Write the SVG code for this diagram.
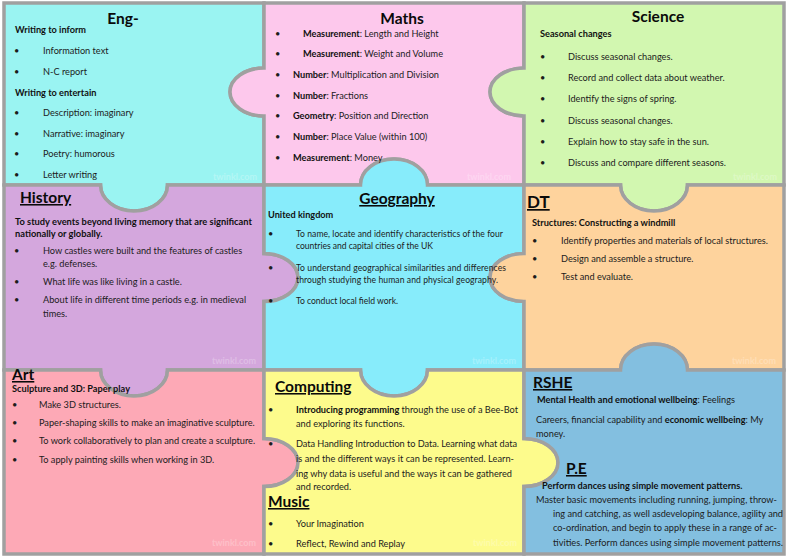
<svg xmlns="http://www.w3.org/2000/svg" width="787" height="558" viewBox="0 0 787 558">
<style>
.piece{stroke:#a0a0a0;stroke-width:3.5;stroke-linejoin:miter}
text{font-family:Lato,"Liberation Sans",sans-serif;fill:#1c1c1c}
.t{font-size:15.5px;font-weight:700;fill:#0a0a0a}
.u{text-decoration:underline}
.b{font-size:9.2px}
.h{font-weight:700;fill:#111}
.g{font-size:8.6px}
.wm{font-size:9px;font-weight:700;fill:#fff;opacity:.25}
</style>
<rect width="787" height="558" fill="#fff"/>

<g id="pieces">
<path id="eng-piece" class="piece" fill="#9af4f2" d="M4,3 H264 V68 A34 24 0 0 0 264,116 V185 H167.5 A33.5 26 0 0 1 100.5,185 H4 Z"/>
<path id="maths-piece" class="piece" fill="#fdc8ec" d="M264,3 H524 V68 A34 24 0 0 0 524,116 V185 H427.5 A33.5 26 0 0 0 360.5,185 H264 V116 A34 24 0 0 1 264,68 Z"/>
<path id="science-piece" class="piece" fill="#d2f7b0" d="M524,3 H784 V185 H687.5 A33.5 26 0 0 1 620.5,185 H524 V116 A34 24 0 0 1 524,68 Z"/>
<path id="history-piece" class="piece" fill="#d4a7dd" d="M4,185 H100.5 A33.5 26 0 0 0 167.5,185 H264 V253.5 A34 24 0 0 1 264,301.5 V370 H167.5 A33.5 26 0 0 1 100.5,370 H4 Z"/>
<path id="geography-piece" class="piece" fill="#87ecfb" d="M264,185 H360.5 A33.5 26 0 0 1 427.5,185 H524 V253.5 A34 24 0 0 0 524,301.5 V370 H427.5 A33.5 26 0 0 1 360.5,370 H264 V301.5 A34 24 0 0 0 264,253.5 Z"/>
<path id="dt-piece" class="piece" fill="#fed39d" d="M524,185 H620.5 A33.5 26 0 0 0 687.5,185 H784 V370 H687.5 A33.5 26 0 0 0 620.5,370 H524 V301.5 A34 24 0 0 1 524,253.5 Z"/>
<path id="art-piece" class="piece" fill="#fda9b6" d="M4,370 H100.5 A33.5 26 0 0 0 167.5,370 H264 V438.5 A34 24 0 0 1 264,486.5 V554 H4 Z"/>
<path id="computing-piece" class="piece" fill="#fdfb8c" d="M264,370 H360.5 A33.5 26 0 0 0 427.5,370 H524 V438.5 A34 24 0 0 1 524,486.5 V554 H264 V486.5 A34 24 0 0 0 264,438.5 Z"/>
<path id="rshe-piece" class="piece" fill="#83bfe0" d="M524,370 H620.5 A33.5 26 0 0 1 687.5,370 H784 V554 H524 V486.5 A34 24 0 0 0 524,438.5 Z"/>
</g>

<g id="eng">
<text class="t" x="123" y="24" text-anchor="middle">Eng-</text>
<text class="b h" x="15" y="33">Writing to inform</text>
<text class="b" x="14" y="54">•</text><text class="b" x="43" y="54">Information text</text>
<text class="b" x="14" y="75">•</text><text class="b" x="43" y="75">N-C report</text>
<text class="b h" x="15" y="96">Writing to entertain</text>
<text class="b" x="14" y="116">•</text><text class="b" x="43" y="116">Description: imaginary</text>
<text class="b" x="14" y="137">•</text><text class="b" x="43" y="137">Narrative: imaginary</text>
<text class="b" x="14" y="157">•</text><text class="b" x="43" y="157">Poetry: humorous</text>
<text class="b" x="14" y="178">•</text><text class="b" x="43" y="178">Letter writing</text>
<text class="wm" x="213" y="180">twinkl.com</text>
</g>

<g id="maths">
<text class="t" x="402" y="24" text-anchor="middle">Maths</text>
<text class="b" x="275" y="37">•</text><text class="b" x="303" y="37"><tspan class="h">Measurement</tspan>: Length and Height</text>
<text class="b" x="275" y="57">•</text><text class="b" x="303" y="57"><tspan class="h">Measurement</tspan>: Weight and Volume</text>
<text class="b" x="275" y="78">•</text><text class="b" x="293" y="78"><tspan class="h">Number</tspan>: Multiplication and Division</text>
<text class="b" x="275" y="99">•</text><text class="b" x="293" y="99"><tspan class="h">Number</tspan>: Fractions</text>
<text class="b" x="275" y="119">•</text><text class="b" x="293" y="119"><tspan class="h">Geometry</tspan>: Position and Direction</text>
<text class="b" x="275" y="140">•</text><text class="b" x="293" y="140"><tspan class="h">Number</tspan>: Place Value (within 100)</text>
<text class="b" x="275" y="161">•</text><text class="b" x="293" y="161"><tspan class="h">Measurement</tspan>: Money</text>
<text class="wm" x="467" y="180">twinkl.com</text>
</g>

<g id="science">
<text class="t" x="658" y="22" text-anchor="middle">Science</text>
<text class="b h" x="540" y="37">Seasonal changes</text>
<text class="b" x="540" y="60">•</text><text class="b" x="568" y="60">Discuss seasonal changes.</text>
<text class="b" x="540" y="81">•</text><text class="b" x="568" y="81">Record and collect data about weather.</text>
<text class="b" x="540" y="102">•</text><text class="b" x="568" y="102">Identify the signs of spring.</text>
<text class="b" x="540" y="124">•</text><text class="b" x="568" y="124">Discuss seasonal changes.</text>
<text class="b" x="540" y="145">•</text><text class="b" x="568" y="145">Explain how to stay safe in the sun.</text>
<text class="b" x="540" y="166">•</text><text class="b" x="568" y="166">Discuss and compare different seasons.</text>
<text class="wm" x="733" y="180">twinkl.com</text>
</g>

<g id="history">
<text class="t u" x="20" y="203">History</text>
<text class="b h" x="15" y="225" style="font-size:9.3px">To study events beyond living memory that are significant</text>
<text class="b h" x="15" y="237" style="font-size:9.3px">nationally or globally.</text>
<text class="b" x="14" y="254">•</text><text class="b" x="43" y="254">How castles were built and the features of castles</text>
<text class="b" x="43" y="267">e.g. defenses.</text>
<text class="b" x="14" y="285">•</text><text class="b" x="43" y="285">What life was like living in a castle.</text>
<text class="b" x="14" y="303">•</text><text class="b" x="43" y="303">About life in different time periods e.g. in medieval</text>
<text class="b" x="43" y="317">times.</text>
<text class="wm" x="212" y="364">twinkl.com</text>
</g>

<g id="geography">
<text class="t u" x="397" y="204" text-anchor="middle">Geography</text>
<text class="b h" x="268" y="218">United kingdom</text>
<text class="b" x="268" y="237">•</text><text class="g" x="296" y="237" textLength="207" lengthAdjust="spacing">To name, locate and identify characteristics of the four</text>
<text class="g" x="296" y="249" textLength="137" lengthAdjust="spacing">countries and capital cities of the UK</text>
<text class="b" x="268" y="271">•</text><text class="g" x="296" y="271" textLength="210" lengthAdjust="spacing">To understand geographical similarities and differences</text>
<text class="g" x="296" y="283" textLength="202" lengthAdjust="spacing">through studying the human and physical geography.</text>
<text class="b" x="268" y="304">•</text><text class="g" x="296" y="304" textLength="102" lengthAdjust="spacing">To conduct local field work.</text>
<text class="wm" x="472" y="364">twinkl.com</text>
</g>

<g id="dt">
<text class="t u" x="527" y="208" style="font-size:17px">DT</text>
<text class="b h" x="532" y="226">Structures: Constructing a windmill</text>
<text class="b" x="532" y="244">•</text><text class="b" x="561" y="244">Identify properties and materials of local structures.</text>
<text class="b" x="532" y="262">•</text><text class="b" x="561" y="262">Design and assemble a structure.</text>
<text class="b" x="532" y="280">•</text><text class="b" x="561" y="280">Test and evaluate.</text>
<text class="wm" x="732" y="364">twinkl.com</text>
</g>

<g id="art">
<text class="t u" x="12" y="380">Art</text>
<text class="b h" x="12" y="391.5">Sculpture and 3D: Paper play</text>
<text class="b" x="12" y="408">•</text><text class="b" x="39" y="408">Make 3D structures.</text>
<text class="b" x="12" y="426">•</text><text class="b" x="39" y="426">Paper-shaping skills to make an imaginative sculpture.</text>
<text class="b" x="12" y="444">•</text><text class="b" x="39" y="444">To work collaboratively to plan and create a sculpture.</text>
<text class="b" x="12" y="463">•</text><text class="b" x="39" y="463">To apply painting skills when working in 3D.</text>
<text class="wm" x="212" y="546">twinkl.com</text>
</g>

<g id="computing">
<text class="t u" x="275" y="392">Computing</text>
<text class="b" x="268" y="413">•</text><text class="b" x="296" y="413" textLength="222" lengthAdjust="spacing"><tspan class="h">Introducing programming</tspan> through the use of a Bee-Bot</text>
<text class="b" x="296" y="427">and exploring its functions.</text>
<text class="b" x="268" y="447">•</text><text class="b" x="296" y="447" textLength="221" lengthAdjust="spacing">Data Handling Introduction to Data. Learning what data</text>
<text class="b" x="296" y="462" textLength="218" lengthAdjust="spacing">is and the different ways it can be represented. Learn-</text>
<text class="b" x="296" y="477" textLength="216" lengthAdjust="spacing">ing why data is useful and the ways it can be gathered</text>
<text class="b" x="296" y="490">and recorded.</text>
<text class="t u" x="268" y="507">Music</text>
<text class="b" x="268" y="527">•</text><text class="b" x="296" y="527">Your Imagination</text>
<text class="b" x="268" y="547">•</text><text class="b" x="296" y="547">Reflect, Rewind and Replay</text>
<text class="wm" x="473" y="546">twinkl.com</text>
</g>

<g id="rshe">
<text class="t u" x="533" y="388">RSHE</text>
<text class="b" x="537" y="403"><tspan class="h">Mental Health and emotional wellbeing</tspan>: Feelings</text>
<text class="b" x="536" y="423">Careers, financial capability and <tspan class="h">economic wellbeing</tspan>: My</text>
<text class="b" x="536" y="437">money.</text>
<text class="t u" x="566" y="474">P.E</text>
<text class="b h" x="542" y="489">Perform dances using simple movement patterns.</text>
<text class="b" x="536" y="503" textLength="241" lengthAdjust="spacing">Master basic movements including running, jumping, throw-</text>
<text class="b" x="553" y="517" textLength="230" lengthAdjust="spacing">ing and catching, as well asdeveloping balance, agility and</text>
<text class="b" x="553" y="531" textLength="224" lengthAdjust="spacing">co-ordination, and begin to apply these in a range of ac-</text>
<text class="b" x="553" y="546" textLength="230" lengthAdjust="spacing">tivities. Perform dances using simple movement patterns.</text>
</g>
</svg>
